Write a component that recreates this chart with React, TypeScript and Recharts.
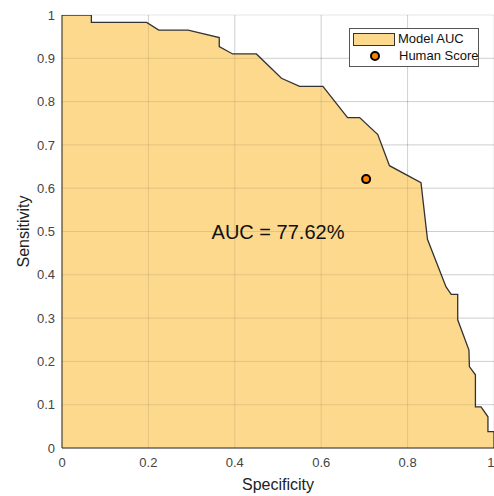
import { ComposedChart, Area, Scatter, XAxis, YAxis, CartesianGrid, ReferenceDot, ReferenceLine } from "recharts";

const specificity = [0, 0.068, 0.068, 0.196, 0.224, 0.292, 0.364, 0.364, 0.395, 0.45, 0.508, 0.55, 0.604, 0.661, 0.689, 0.731, 0.758, 0.831, 0.846, 0.889, 0.901, 0.916, 0.916, 0.942, 0.943, 0.957, 0.957, 0.97, 0.986, 0.986, 1, 1];
const sensitivity = [1, 1, 0.983, 0.983, 0.965, 0.965, 0.948, 0.927, 0.91, 0.91, 0.854, 0.835, 0.835, 0.763, 0.763, 0.724, 0.652, 0.613, 0.482, 0.372, 0.355, 0.355, 0.296, 0.226, 0.188, 0.169, 0.095, 0.095, 0.072, 0.038, 0.038, 0];

const humanSpec = [0.704];
const humanSens = [0.621];

const xTicks = [0, 0.2, 0.4, 0.6, 0.8, 1];
const yTicks = [0, 0.1, 0.2, 0.3, 0.4, 0.5, 0.6, 0.7, 0.8, 0.9, 1];

const aucLabel = "AUC = 77.62%";

const roc = specificity.map((x, i) => ({ x, y: sensitivity[i] }));
const human = humanSpec.map((x, i) => ({ x, y: humanSens[i] }));

const FONT = "'Liberation Sans', Arial, sans-serif";
const FILL = "#FDD98E";
const GRID = "rgba(0,0,0,0.1)";

function LegendBox() {
  return (
    <div
      style={{
        position: "absolute",
        left: 349,
        top: 28,
        width: 128,
        height: 37,
        background: "#fff",
        border: "1px solid #555",
        fontFamily: FONT,
        fontSize: 13,
        color: "#111",
        whiteSpace: "nowrap",
      }}
    >
      <div style={{ position: "absolute", left: 3, top: 4, width: 40, height: 11, background: FILL, border: "1px solid #333" }} />
      <div style={{ position: "absolute", left: 48, top: 2, lineHeight: "15px" }}>Model AUC</div>
      <div
        style={{
          position: "absolute",
          left: 20,
          top: 22,
          width: 6,
          height: 6,
          borderRadius: "50%",
          background: "#FF8000",
          border: "2px solid #000",
        }}
      />
      <div style={{ position: "absolute", left: 49, top: 19, lineHeight: "15px" }}>Human Score</div>
    </div>
  );
}

function YLabel(props: any) {
  const vb = props.viewBox || { x: 0, y: 0, height: 0 };
  const cx = vb.x + 23;
  const cy = vb.y + vb.height / 2;
  return (
    <text x={cx} y={cy} transform={`rotate(-90, ${cx}, ${cy})`} textAnchor="middle" dominantBaseline="central" fontSize={16} fill="#222" fontFamily={FONT}>
      Sensitivity
    </text>
  );
}

export default function App() {
  return (
    <div style={{ position: "absolute", left: 0, top: 0, width: 494, height: 496, background: "#fff" }}>
      <ComposedChart width={494} height={496} data={roc} margin={{ top: 15, right: 0, bottom: 0, left: 0 }}>
        <CartesianGrid stroke={GRID} />
        <XAxis
          type="number"
          dataKey="x"
          domain={[0, 1]}
          ticks={xTicks}
          allowDataOverflow
          height={48}
          tickLine={false}
          tickSize={0}
          tickMargin={10}
          stroke="#262626"
          tick={{ fill: "#444", fontSize: 13, fontFamily: FONT }}
          label={{ value: "Specificity", position: "insideBottom", offset: 6, fontSize: 16, fill: "#222", fontFamily: FONT }}
        />
        <YAxis
          type="number"
          dataKey="y"
          domain={[0, 1]}
          ticks={yTicks}
          allowDataOverflow
          width={62}
          tickLine={false}
          tickSize={0}
          tickMargin={7}
          stroke="#262626"
          tick={{ fill: "#444", fontSize: 13, fontFamily: FONT }}
          label={<YLabel />}
        />
        <Area
          type="linear"
          dataKey="y"
          fill={FILL}
          fillOpacity={1}
          stroke="#333"
          strokeWidth={1.3}
          isAnimationActive={false}
          name="Model AUC"
        />
        {xTicks.slice(1, -1).map((t) => (
          <ReferenceLine key={"x" + t} x={t} stroke={GRID} />
        ))}
        {yTicks.slice(1, -1).map((t) => (
          <ReferenceLine key={"y" + t} y={t} stroke={GRID} />
        ))}
        <Scatter data={human} dataKey="y" fill="#FF8000" stroke="#000" strokeWidth={2} isAnimationActive={false} name="Human Score"
          shape={(p: any) => <circle cx={p.cx} cy={p.cy} r={4} fill="#FF8000" stroke="#000" strokeWidth={2} />}
        />
        <ReferenceDot x={0.5} y={0.5} r={0} fill="none" stroke="none"
          label={{ value: aucLabel, position: "center", fontSize: 20, fill: "#111", fontFamily: FONT }}
        />
      </ComposedChart>
      <LegendBox />
    </div>
  );
}
